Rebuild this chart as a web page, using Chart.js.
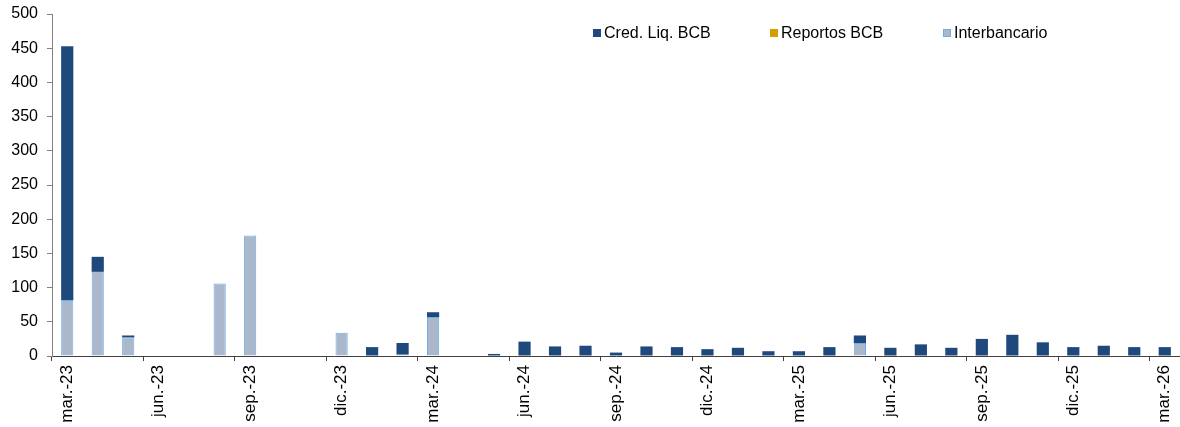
<!DOCTYPE html>
<html>
<head>
<meta charset="utf-8">
<script src="https://cdn.jsdelivr.net/npm/chart.js@4/dist/chart.umd.min.js"></script>
<style>
  html, body { margin: 0; padding: 0; background: #fff; }
  #wrap { width: 1180px; height: 427px; position: relative; }
</style>
</head>
<body>
<div id="wrap"><canvas id="myChart"></canvas></div>
<script>
var meses = ['mar.-23','abr.-23','may.-23','jun.-23','jul.-23','ago.-23','sep.-23','oct.-23','nov.-23','dic.-23',
             'ene.-24','feb.-24','mar.-24','abr.-24','may.-24','jun.-24','jul.-24','ago.-24','sep.-24','oct.-24','nov.-24','dic.-24',
             'ene.-25','feb.-25','mar.-25','abr.-25','may.-25','jun.-25','jul.-25','ago.-25','sep.-25','oct.-25','nov.-25','dic.-25',
             'ene.-26','feb.-26','mar.-26'];

var credLiq      = [371, 22, 3, 0, 0, 0, 0, 0, 0, 0,
                    13, 17, 7, 0, 3, 21, 14, 15, 5, 14, 13, 10,
                    12, 7, 7, 13, 11, 12, 17, 12, 25, 31, 20, 13,
                    15, 13, 13];
var reportos     = [0, 0, 0, 0, 0, 0, 0, 0, 0, 0,
                    0, 0, 0, 0, 0, 0, 0, 0, 0, 0, 0, 0,
                    0, 0, 0, 0, 0, 0, 0, 0, 0, 0, 0, 0,
                    0, 0, 0];
var interbancario = [82, 123, 27, 0, 0, 106, 176, 0, 0, 34,
                     0, 2, 57, 0, 0, 0, 0, 0, 0, 0, 0, 0,
                     0, 0, 0, 0, 19, 0, 0, 0, 0, 0, 0, 0,
                     0, 0, 0];

var yTicks = [0, 50, 100, 150, 200, 250, 300, 350, 400, 450, 500];

Chart.defaults.font.family = '"Liberation Sans", Arial, sans-serif';
Chart.defaults.font.size = 16;
Chart.defaults.color = '#000';

// legend drawn inside the plot, top right (like the excel original)
var legendPos = [593, 770, 943];
var legendDentro = {
    id: 'legendDentro',
    afterDraw: function(chart) {
        var c = chart.ctx;
        var orden = [2, 1, 0];
        c.save();
        c.font = '16px "Liberation Sans", Arial, sans-serif';
        c.textBaseline = 'middle';
        c.textAlign = 'left';
        orden.forEach(function(di, k) {
            var ds = chart.data.datasets[di];
            var x = legendPos[k], y = 33;
            c.fillStyle = ds.backgroundColor;
            c.fillRect(x, y - 4, 8, 8);
            if (ds.borderWidth) {
                c.strokeStyle = ds.borderColor;
                c.lineWidth = 1;
                c.strokeRect(x + 0.5, y - 3.5, 7, 7);
            }
            c.fillStyle = '#000';
            c.fillText(ds.label, x + 11, y + 1);
        });
        c.restore();
    }
};

var ctx = document.getElementById('myChart');
var chart = new Chart(ctx, {
    type: 'bar',
    data: {
        labels: meses,
        datasets: [{
            label: 'Interbancario',
            data: interbancario,
            backgroundColor: '#ABB7CB',
            borderColor: '#6DAEE4',
            borderWidth: 1
        }, {
            label: 'Reportos BCB',
            data: reportos,
            backgroundColor: '#D29E00',
            borderWidth: 0
        }, {
            label: 'Cred. Liq. BCB',
            data: credLiq,
            backgroundColor: '#1F497D',
            borderWidth: 0
        }]
    },
    plugins: [legendDentro],
    options: {
        responsive: true,
        maintainAspectRatio: false,
        animation: false,
        datasets: {
            bar: { categoryPercentage: 1, barPercentage: 0.4 }
        },
        layout: { padding: { top: 14, right: 0, bottom: 0, left: 0 } },
        plugins: {
            legend: { display: false },
            tooltip: { enabled: false }
        },
        scales: {
            x: {
                stacked: true,
                offset: true,
                afterFit: function(s) { s.height = 71; s.paddingRight = 0; },
                border: { display: true, color: '#404040', width: 1 },
                grid: {
                    offset: true,
                    drawOnChartArea: false,
                    drawTicks: true,
                    tickLength: 5,
                    color: function(c) { return c.index % 3 === 0 ? '#404040' : 'rgba(0,0,0,0)'; }
                },
                ticks: {
                    autoSkip: false,
                    maxRotation: 90,
                    minRotation: 90,
                    padding: 4,
                    font: { size: 17 },
                    callback: function(v, i) { return i % 3 === 0 ? this.getLabelForValue(v) : ''; }
                }
            },
            y: {
                stacked: true,
                min: 0,
                max: 500,
                afterFit: function(s) { s.width = 52; s.paddingTop = 0; s.paddingBottom = 0; },
                afterBuildTicks: function(s) { s.ticks = yTicks.map(function(v) { return { value: v }; }); },
                border: { display: true, color: '#808080', width: 1 },
                grid: {
                    drawOnChartArea: false,
                    drawTicks: true,
                    tickLength: 5,
                    color: '#808080'
                },
                ticks: { padding: 9 }
            }
        }
    }
});
</script>
</body>
</html>
